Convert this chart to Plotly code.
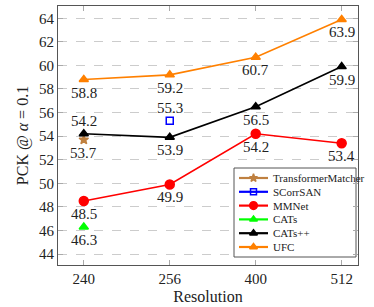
import plotly.graph_objects as go

resolutions = ["240", "256", "400", "512"]

tm_x = ["240"]; tm_y = [53.7]
scs_x = ["256"]; scs_y = [55.3]
mmnet_y = [48.5, 49.9, 54.2, 53.4]
cats_x = ["240"]; cats_y = [46.3]
catspp_y = [54.2, 53.9, 56.5, 59.9]
ufc_y = [58.8, 59.2, 60.7, 63.9]

FONT = "Liberation Serif"
W, H = 374, 307
L, R, T, B = 58, 16, 6, 42
fig = go.Figure()

series = []

def add(name, x, y, color, symbol, size, lw=1.6):
    fig.add_trace(go.Scatter(x=x, y=y, name=name, mode="lines+markers",
                             line=dict(color=color, width=lw), showlegend=False,
                             marker=dict(symbol=symbol, size=size, color=color,
                                         line=dict(color=color, width=1.5))))
    series.append((name, color, symbol, size, lw))

def labels(x, y, shifts):
    for xi, yi, s in zip(x, y, shifts):
        fig.add_annotation(x=resolutions.index(xi), y=yi, xref="x", yref="y",
                           text=f"{yi:.1f}", showarrow=False, yshift=s,
                           font=dict(family=FONT, size=15, color="#222"))

add("TransformerMatcher", tm_x, tm_y, "#bf8040", "star", 7)
add("SCorrSAN", scs_x, scs_y, "#0000ff", "square-open", 7)
add("MMNet", resolutions, mmnet_y, "#ff0000", "circle", 9)
add("CATs", cats_x, cats_y, "#00ff00", "triangle-up", 8)
add("CATs++", resolutions, catspp_y, "#000000", "triangle-up", 8)
add("UFC", resolutions, ufc_y, "#ff8000", "triangle-up", 8)

D = -13
labels(tm_x, tm_y, [D])
labels(scs_x, scs_y, [13])
labels(resolutions, mmnet_y, [D, D, D, D])
labels(cats_x, cats_y, [D])
labels(resolutions, catspp_y, [13, D, D, D])
labels(resolutions, ufc_y, [D, D, D, D])

# Hand-drawn legend on an overlay axis measured in plot-area pixels
box_x0, box_x1, box_y0, box_y1 = 234, 356, 168, 257
row0, row_gap = 178, 13.8
fig.add_trace(go.Scatter(x=[box_x0, box_x1, box_x1, box_x0, box_x0],
                         y=[box_y0, box_y0, box_y1, box_y1, box_y0],
                         xaxis="x2", yaxis="y2", mode="lines", fill="toself",
                         fillcolor="white", line=dict(color="#555", width=1),
                         showlegend=False, hoverinfo="skip"))
for i, (name, color, symbol, size, lw) in enumerate(series):
    ry = row0 + i * row_gap
    fig.add_trace(go.Scatter(x=[239, 268], y=[ry, ry], xaxis="x2", yaxis="y2",
                             mode="lines", line=dict(color=color, width=lw + 0.6),
                             showlegend=False, hoverinfo="skip"))
    fig.add_trace(go.Scatter(x=[253.5], y=[ry], xaxis="x2", yaxis="y2",
                             mode="markers", showlegend=False, hoverinfo="skip",
                             marker=dict(symbol=symbol, size=size * 0.85, color=color,
                                         line=dict(color=color, width=1.5))))
    fig.add_annotation(x=271, y=ry, xref="x2", yref="y2", text=name,
                       showarrow=False, xanchor="left", yanchor="middle",
                       font=dict(family=FONT, size=11, color="#222"))

fig.update_layout(
    width=W, height=H,
    margin=dict(l=L, r=R, t=T, b=B),
    paper_bgcolor="white", plot_bgcolor="white",
    font=dict(family=FONT, size=15, color="#222"),
    showlegend=False,
    xaxis=dict(type="category", categoryorder="array", categoryarray=resolutions,
               range=[-0.30, 3.19], showline=True, linecolor="#555", linewidth=1.2,
               mirror="ticks", ticks="inside", ticklen=5, tickcolor="#aaa",
               showgrid=False, zeroline=False, automargin=False,
               title=dict(text="Resolution", font=dict(size=16), standoff=4),
               tickfont=dict(size=15)),
    yaxis=dict(range=[43.07, 65.04], tickvals=list(range(44, 65, 2)),
               showline=True, linecolor="#555", linewidth=1.2,
               mirror="ticks", ticks="inside", ticklen=5, tickcolor="#aaa",
               showgrid=True, gridcolor="#cccccc", griddash="dash", gridwidth=1,
               zeroline=False, automargin=False,
               title=dict(text="PCK @ <i>α</i> = 0.1", font=dict(size=16), standoff=6),
               tickfont=dict(size=15)),
    xaxis2=dict(overlaying="x", range=[L, W - R], visible=False, fixedrange=True),
    yaxis2=dict(overlaying="y", range=[H - B, T], visible=False, fixedrange=True),
)

fig.write_html("out.html", config={"displayModeBar": False},
               post_script="document.body.style.margin='0';")
